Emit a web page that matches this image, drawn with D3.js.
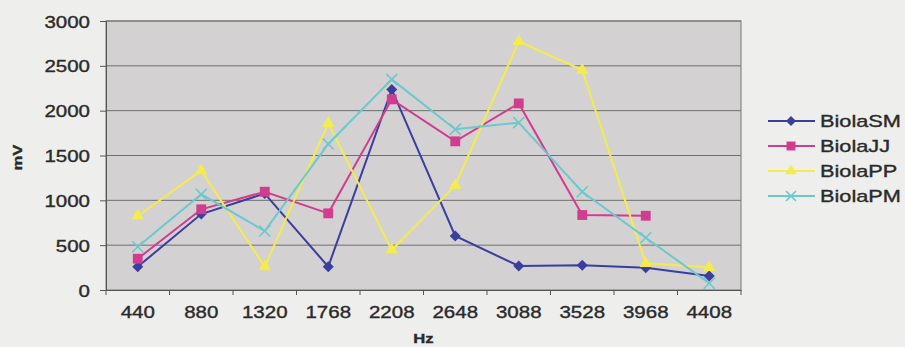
<!DOCTYPE html>
<html>
<head>
<meta charset="utf-8">
<script src="https://cdn.jsdelivr.net/npm/d3@7"></script>
<style>
  html, body { margin: 0; padding: 0; background: #eeeeec; }
  svg { display: block; }
  text { font-family: "Liberation Sans", Arial, sans-serif; fill: #2a2a2a; stroke: #2a2a2a; stroke-width: 0.35px; }
</style>
</head>
<body>
<svg id="chart" width="905" height="347"></svg>
<script>
// Frequencies (Hz) along the x axis
const categories = ["440", "880", "1320", "1768", "2208", "2648", "3088", "3528", "3968", "4408"];

// Amplitude per instrument (mV); null = no measurement
const biolaSM = [260, 847, 1075, 260, 2237, 602, 268, 275, 249, 156];
const biolaJJ = [349, 900, 1096, 855, 2126, 1658, 2081, 836, 828, null];
const biolaPP = [825, 1330, 260, 1858, 446, 1167, 2773, 2453, 297, 253];
const biolaPM = [483, 1067, 658, 1628, 2349, 1792, 1866, 1096, 583, 75];

const yTicks = [0, 500, 1000, 1500, 2000, 2500, 3000];

const seriesNames = ["BiolaSM", "BiolaJJ", "BiolaPP", "BiolaPM"];
const seriesValues = [biolaSM, biolaJJ, biolaPP, biolaPM];
const seriesColors = ["#3a3e9e", "#d23c8e", "#f4ec4c", "#6cc8cc"];
const seriesMarkers = ["diamond", "square", "triangle", "cross"];

const svg = d3.select("#chart");
const plot = { left: 106, right: 741, top: 21, bottom: 290 };
const stretch = 1.28; // horizontal scale applied to the text

const x = d3.scaleBand().domain(categories).range([plot.left, plot.right]);
const y = d3.scaleLinear().domain([0, 3000]).range([plot.bottom, plot.top]);

// plot area background
svg.append("rect")
  .attr("x", plot.left).attr("y", plot.top)
  .attr("width", plot.right - plot.left).attr("height", plot.bottom - plot.top)
  .attr("fill", "#d3d1d2");

// horizontal gridlines
svg.append("g").selectAll("line").data(yTicks.filter(d => d > 0)).join("line")
  .attr("x1", plot.left).attr("x2", plot.right)
  .attr("y1", d => y(d)).attr("y2", d => y(d))
  .attr("stroke", "#6f6f6f").attr("stroke-width", 1);

// plot frame
svg.append("rect")
  .attr("x", plot.left).attr("y", plot.top)
  .attr("width", plot.right - plot.left).attr("height", plot.bottom - plot.top)
  .attr("fill", "none").attr("stroke", "#777").attr("stroke-width", 1);

// y axis
const yAxis = svg.append("g")
  .attr("transform", `translate(${plot.left},0)`)
  .call(d3.axisLeft(y).tickValues(yTicks).tickSize(6).tickPadding(0).tickFormat(() => ""));
yAxis.select(".domain").attr("stroke", "#555");
yAxis.selectAll(".tick line").attr("stroke", "#555");
yAxis.selectAll(".tick").append("text")
  .attr("transform", `translate(-16,6) scale(${stretch},1)`)
  .attr("text-anchor", "end")
  .style("font-size", "16px")
  .text(d => d);

// x axis: ticks sit between categories
const xAxis = svg.append("g")
  .attr("transform", `translate(0,${plot.bottom})`)
  .call(d3.axisBottom(x).tickSize(0).tickFormat(() => ""));
xAxis.select(".domain").attr("stroke", "#555");
xAxis.selectAll(".tick").append("text")
  .attr("transform", `translate(0,28) scale(${stretch},1)`)
  .attr("text-anchor", "middle")
  .style("font-size", "16px")
  .text(d => d);
const boundaries = categories.map(c => x(c)).concat([plot.right]);
svg.append("g").selectAll("line").data(boundaries).join("line")
  .attr("x1", d => d).attr("x2", d => d)
  .attr("y1", plot.bottom).attr("y2", plot.bottom + 5)
  .attr("stroke", "#555");

// axis titles
svg.append("text")
  .attr("transform", `translate(22,${(plot.top + plot.bottom) / 2 + 2}) rotate(-90) scale(${stretch},1)`)
  .attr("text-anchor", "middle")
  .style("font-size", "13px").style("font-weight", "bold")
  .text("mV");
svg.append("text")
  .attr("transform", `translate(${(plot.left + plot.right) / 2},343) scale(${stretch},1)`)
  .attr("text-anchor", "middle")
  .style("font-size", "13px").style("font-weight", "bold")
  .text("Hz");

// marker shapes
function marker(sel, type, color, size) {
  const s = size / 2;
  if (type === "cross") {
    sel.append("path")
      .attr("d", `M${-s},${-s}L${s},${s}M${-s},${s}L${s},${-s}`)
      .attr("stroke", color).attr("stroke-width", 1.6).attr("fill", "none");
  } else if (type === "diamond") {
    sel.append("path")
      .attr("d", `M0,${-s}L${s},0L0,${s}L${-s},0Z`)
      .attr("fill", color);
  } else {
    const sym = { square: d3.symbolSquare, triangle: d3.symbolTriangle }[type];
    const area = { square: size * size * 0.8, triangle: size * size * 0.55 }[type];
    sel.append("path")
      .attr("d", d3.symbol(sym, area)())
      .attr("fill", color);
  }
}

const line = d3.line()
  .defined(d => d.v !== null)
  .x(d => x(d.c) + x.bandwidth() / 2)
  .y(d => y(d.v));

seriesNames.forEach((name, i) => {
  const pts = categories.map((c, j) => ({ c, v: seriesValues[i][j] }));
  const g = svg.append("g");
  g.append("path")
    .datum(pts)
    .attr("d", line)
    .attr("fill", "none")
    .attr("stroke", seriesColors[i])
    .attr("stroke-width", 2);
  pts.filter(d => d.v !== null).forEach(d => {
    const m = g.append("g")
      .attr("transform", `translate(${x(d.c) + x.bandwidth() / 2},${y(d.v)})`);
    marker(m, seriesMarkers[i], seriesColors[i], 11);
  });
});

// legend
const legend = svg.append("g");
seriesNames.forEach((name, i) => {
  const ly = 121 + i * 25;
  const row = legend.append("g");
  row.append("line")
    .attr("x1", 768).attr("x2", 815).attr("y1", ly).attr("y2", ly)
    .attr("stroke", seriesColors[i]).attr("stroke-width", 2);
  const m = row.append("g").attr("transform", `translate(791,${ly})`);
  marker(m, seriesMarkers[i], seriesColors[i], 10);
  row.append("text")
    .attr("transform", `translate(820,${ly + 6}) scale(${stretch},1)`)
    .style("font-size", "17px")
    .text(name);
});
</script>
</body>
</html>
